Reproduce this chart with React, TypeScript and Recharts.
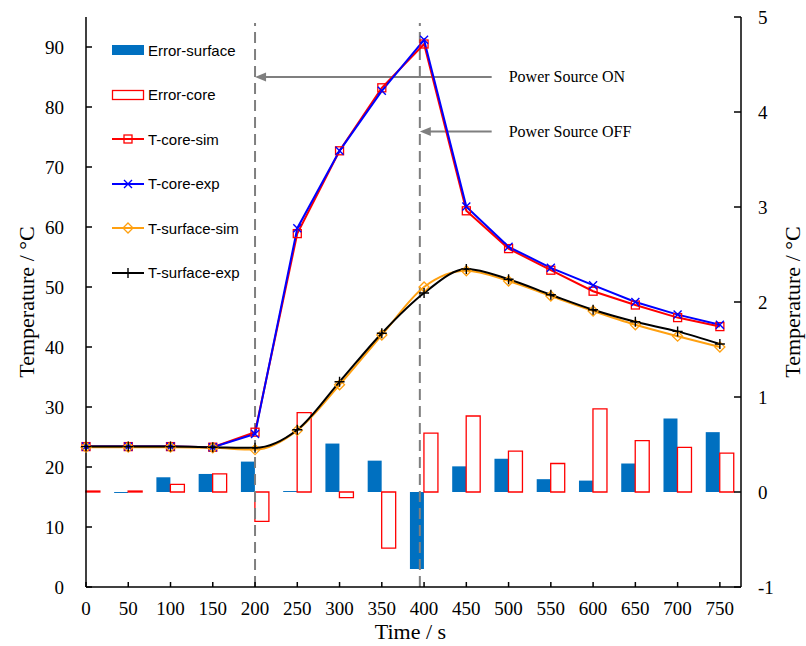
import React from "react";
import { ComposedChart, Bar, Line, XAxis, YAxis, ReferenceLine, Legend } from "recharts";

const TIME = [0, 50, 100, 150, 200, 250, 300, 350, 400, 450, 500, 550, 600, 650, 700, 750];
const T_CORE_SIM = [23.4, 23.4, 23.4, 23.3, 25.8, 58.9, 72.7, 83.2, 90.5, 62.7, 56.4, 52.8, 49.3, 47.0, 44.9, 43.4];
const T_CORE_EXP = [23.4, 23.4, 23.4, 23.3, 25.5, 59.8, 72.7, 82.7, 91.2, 63.4, 56.7, 53.2, 50.3, 47.5, 45.4, 43.7];
const T_SURF_SIM = [23.3, 23.3, 23.3, 23.2, 22.9, 26.1, 33.7, 42.0, 50.0, 52.7, 51.0, 48.5, 46.0, 43.7, 41.8, 40.0];
const T_SURF_EXP = [23.4, 23.4, 23.4, 23.3, 23.2, 26.2, 34.2, 42.3, 49.0, 53.0, 51.3, 48.7, 46.2, 44.2, 42.6, 40.5];
const ERR_SURFACE = [0, -0.01, 0.155, 0.19, 0.32, 0.01, 0.51, 0.33, -0.81, 0.27, 0.35, 0.135, 0.12, 0.3, 0.775, 0.63];
const ERR_CORE = [0.01, 0.01, 0.08, 0.19, -0.31, 0.835, -0.06, -0.59, 0.62, 0.8, 0.43, 0.3, 0.875, 0.54, 0.47, 0.41];

const LEFT_TICKS = [0, 10, 20, 30, 40, 50, 60, 70, 80, 90];
const RIGHT_TICKS = [-1, 0, 1, 2, 3, 4, 5];

const data = TIME.map((t, i) => ({
  t,
  errSurface: ERR_SURFACE[i],
  errCore: ERR_CORE[i],
  coreSim: T_CORE_SIM[i],
  coreExp: T_CORE_EXP[i],
  surfSim: T_SURF_SIM[i],
  surfExp: T_SURF_EXP[i],
}));

const SERIF = '"Liberation Serif", "Times New Roman", serif';
const SANS = '"Liberation Sans", Arial, sans-serif';
const GREY = "#7F7F7F";
const ORANGE = "#FFA010";

const LEGEND_ITEMS = [
  { name: "Error-surface", kind: "fill", color: "#0070C0" },
  { name: "Error-core", kind: "outline", color: "#FF0000" },
  { name: "T-core-sim", kind: "square", color: "#FF0000" },
  { name: "T-core-exp", kind: "cross", color: "#0000FF" },
  { name: "T-surface-sim", kind: "diamond", color: ORANGE },
  { name: "T-surface-exp", kind: "plus", color: "#000000" },
];

function Marker({ kind, cx, cy, color }: any) {
  if (cx == null || cy == null) return null;
  if (kind === "square")
    return <rect x={cx - 4} y={cy - 4} width={8} height={8} fill="none" stroke={color} strokeWidth={1.3} />;
  if (kind === "cross")
    return (
      <path d={`M${cx - 4},${cy - 4}L${cx + 4},${cy + 4}M${cx - 4},${cy + 4}L${cx + 4},${cy - 4}`} stroke={color} strokeWidth={1.4} />
    );
  if (kind === "diamond")
    return (
      <path d={`M${cx},${cy - 5}L${cx + 5},${cy}L${cx},${cy + 5}L${cx - 5},${cy}Z`} fill="none" stroke={color} strokeWidth={1.3} />
    );
  return <path d={`M${cx - 5},${cy}H${cx + 5}M${cx},${cy - 5}V${cy + 5}`} stroke={color} strokeWidth={1.4} />;
}

function LegendIcon({ kind, color }: { kind: string; color: string }) {
  return (
    <svg width={34} height={14} style={{ display: "block" }}>
      {kind === "fill" && <rect x={1} y={2} width={32} height={10} fill={color} />}
      {kind === "outline" && <rect x={1.5} y={2.5} width={31} height={9} fill="#fff" stroke={color} strokeWidth={1.3} />}
      {kind !== "fill" && kind !== "outline" && (
        <>
          <line x1={1} y1={7} x2={33} y2={7} stroke={color} strokeWidth={2} />
          <Marker kind={kind} cx={17} cy={7} color={color} />
        </>
      )}
    </svg>
  );
}

function ChartLegend() {
  return (
    <div style={{ fontFamily: SANS, fontSize: 15, color: "#000" }}>
      {LEGEND_ITEMS.map((it) => (
        <div key={it.name} style={{ display: "flex", alignItems: "center", height: 44.5 }}>
          <LegendIcon kind={it.kind} color={it.color} />
          <span style={{ marginLeft: 3 }}>{it.name}</span>
        </div>
      ))}
    </div>
  );
}

function ArrowNote(props: any) {
  const { x1, y1, x2, y2, text } = props;
  return (
    <g>
      <line x1={x1} y1={y1} x2={x2 + 8} y2={y2} stroke={GREY} strokeWidth={2} />
      <polygon points={`${x2},${y2} ${x2 + 11},${y2 - 4.5} ${x2 + 11},${y2 + 4.5}`} fill={GREY} />
      <text x={x1 + 17} y={y1 + 5} fontFamily={SERIF} fontSize={16} fill="#000">
        {text}
      </text>
    </g>
  );
}

function YTitle({ viewBox, fromLeft }: any) {
  const cx = viewBox.x + fromLeft;
  const cy = viewBox.y + viewBox.height / 2;
  return (
    <text
      transform={`translate(${cx},${cy}) rotate(-90)`}
      textAnchor="middle"
      dy="0.35em"
      fontFamily={SERIF}
      fontSize={22}
      fill="#000"
    >
      Temperature / °C
    </text>
  );
}

function XTitle({ viewBox }: any) {
  return (
    <text x={viewBox.x + viewBox.width / 2 - 3} y={viewBox.y + 52} textAnchor="middle" fontFamily={SERIF} fontSize={22} fill="#000">
      Time / s
    </text>
  );
}

const tickStyle = { fill: "#000", fontSize: 19, fontFamily: SERIF };
const axisLine = { stroke: "#000", strokeWidth: 1.5 };

export default function App() {
  return (
    <div style={{ position: "absolute", left: 0, top: 0, background: "#fff" }}>
      <ComposedChart width={806} height={646} data={data} margin={{ top: 17, right: 0, bottom: 0, left: 0 }} barGap={0}>
        <XAxis
          dataKey="t"
          type="number"
          domain={[0, 775]}
          ticks={TIME}
          interval={0}
          height={59}
          tick={tickStyle}
          axisLine={axisLine}
          tickLine={axisLine}
          tickSize={-5}
          tickMargin={20}
          label={<XTitle />}
        />
        <YAxis
          yAxisId="left"
          domain={[0, 95]}
          ticks={LEFT_TICKS}
          width={86}
          tick={tickStyle}
          axisLine={axisLine}
          tickLine={axisLine}
          tickSize={-6}
          tickMargin={28}
          label={<YTitle fromLeft={26} />}
        />
        <YAxis
          yAxisId="right"
          orientation="right"
          domain={[-1, 5]}
          ticks={RIGHT_TICKS}
          width={65}
          tick={tickStyle}
          axisLine={axisLine}
          tickLine={axisLine}
          tickSize={-7}
          tickMargin={24}
          label={<YTitle fromLeft={51} />}
        />
        <Legend
          layout="vertical"
          align="center"
          verticalAlign="middle"
          content={() => <ChartLegend />}
          wrapperStyle={{ left: 111, top: 28, width: "auto" }}
        />
        <Bar yAxisId="right" dataKey="errSurface" name="Error-surface" fill="#0070C0" barSize={14} isAnimationActive={false} />
        <Bar
          yAxisId="right"
          dataKey="errCore"
          name="Error-core"
          fill="#fff"
          stroke="#FF0000"
          strokeWidth={1.3}
          barSize={14}
          isAnimationActive={false}
        />
        <ReferenceLine
          yAxisId="left"
          segment={[{ x: 200, y: 0 }, { x: 200, y: 94 }]}
          stroke={GREY}
          strokeWidth={2}
          strokeDasharray="11 6"
        />
        <ReferenceLine
          yAxisId="left"
          segment={[{ x: 395, y: 0 }, { x: 395, y: 94 }]}
          stroke={GREY}
          strokeWidth={2}
          strokeDasharray="11 6"
        />
        <ReferenceLine
          yAxisId="left"
          segment={[{ x: 480, y: 85 }, { x: 200, y: 85 }]}
          shape={(p: any) => <ArrowNote {...p} text="Power Source ON" />}
        />
        <ReferenceLine
          yAxisId="left"
          segment={[{ x: 480, y: 75.9 }, { x: 395, y: 75.9 }]}
          shape={(p: any) => <ArrowNote {...p} text="Power Source OFF" />}
        />
        <Line
          yAxisId="left"
          dataKey="coreSim"
          name="T-core-sim"
          type="linear"
          stroke="#FF0000"
          strokeWidth={2}
          dot={<Marker kind="square" color="#FF0000" />}
          isAnimationActive={false}
        />
        <Line
          yAxisId="left"
          dataKey="coreExp"
          name="T-core-exp"
          type="linear"
          stroke="#0000FF"
          strokeWidth={2}
          dot={<Marker kind="cross" color="#0000FF" />}
          isAnimationActive={false}
        />
        <Line
          yAxisId="left"
          dataKey="surfSim"
          name="T-surface-sim"
          type="monotone"
          stroke={ORANGE}
          strokeWidth={2}
          dot={<Marker kind="diamond" color={ORANGE} />}
          isAnimationActive={false}
        />
        <Line
          yAxisId="left"
          dataKey="surfExp"
          name="T-surface-exp"
          type="monotone"
          stroke="#000"
          strokeWidth={2}
          dot={<Marker kind="plus" color="#000" />}
          isAnimationActive={false}
        />
      </ComposedChart>
    </div>
  );
}
